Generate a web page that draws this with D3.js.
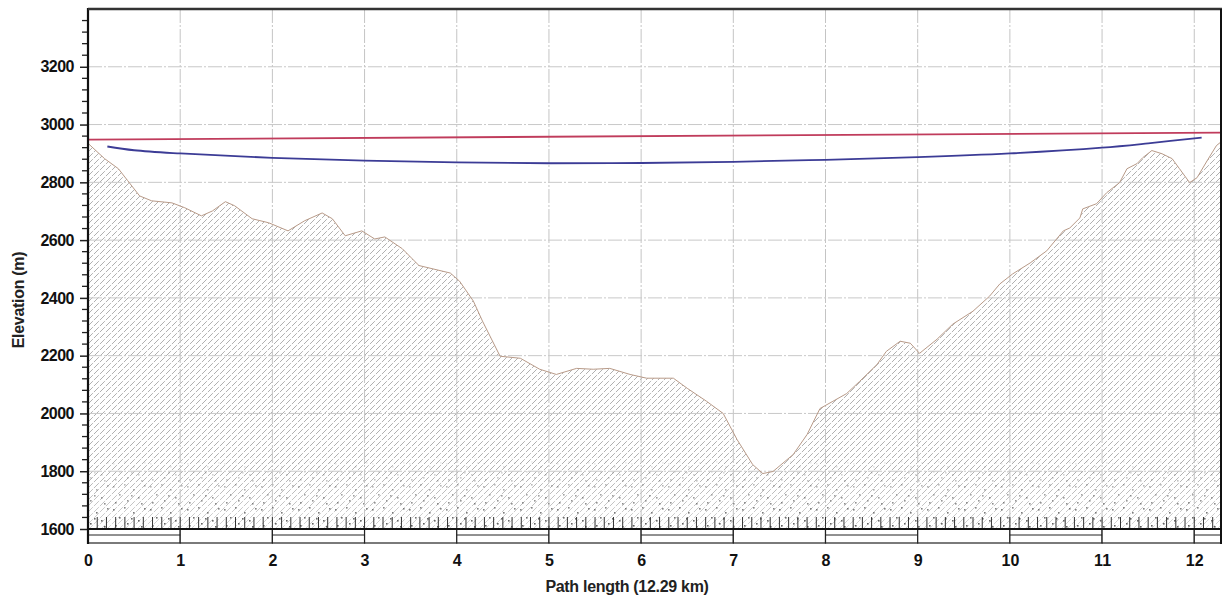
<!DOCTYPE html>
<html>
<head>
<meta charset="utf-8">
<script src="https://cdn.jsdelivr.net/npm/d3@7"></script>
<style>
  body { margin: 0; background: #fff; }
  svg { display: block; font-family: "Liberation Sans", Arial, sans-serif; }
</style>
</head>
<body>
<svg width="1226" height="601"></svg>
<script>
// terrain profile (km, m)
const terrainKm = [0, 0.18, 0.33, 0.43, 0.56, 0.69, 0.91, 1.05, 1.23, 1.35, 1.49, 1.59, 1.78, 1.96, 2.17, 2.35, 2.54, 2.65, 2.79, 2.97, 3.11, 3.22, 3.41, 3.59, 3.93, 4.03, 4.18, 4.28, 4.47, 4.69, 4.90, 5.08, 5.30, 5.48, 5.66, 5.88, 6.06, 6.35, 6.50, 6.71, 6.89, 7.04, 7.21, 7.32, 7.43, 7.65, 7.80, 7.94, 8.08, 8.23, 8.37, 8.56, 8.66, 8.81, 8.92, 9.02, 9.21, 9.38, 9.60, 9.78, 9.89, 10.03, 10.22, 10.40, 10.58, 10.65, 10.76, 10.79, 10.94, 11.05, 11.19, 11.27, 11.38, 11.44, 11.54, 11.65, 11.76, 11.84, 11.95, 12.03, 12.14, 12.24, 12.29];
const terrainM = [2935, 2882, 2847, 2806, 2753, 2736, 2729, 2712, 2684, 2701, 2733, 2719, 2674, 2660, 2632, 2667, 2694, 2674, 2615, 2632, 2604, 2611, 2570, 2512, 2486, 2458, 2389, 2319, 2198, 2191, 2153, 2135, 2156, 2153, 2156, 2135, 2122, 2122, 2087, 2042, 2000, 1910, 1823, 1792, 1799, 1858, 1927, 2017, 2042, 2069, 2111, 2170, 2215, 2250, 2243, 2208, 2257, 2309, 2354, 2406, 2448, 2483, 2521, 2563, 2632, 2642, 2677, 2708, 2726, 2764, 2799, 2847, 2865, 2885, 2910, 2899, 2882, 2847, 2799, 2816, 2875, 2927, 2940];

// line of sight (red)
const losKm = [0, 12.29];
const losM = [2948, 2972];

// clearance curve (blue)
const clearKm = [0.21, 0.5, 1, 2, 3, 4, 5, 6, 7, 8, 9, 10, 11, 11.5, 12.08];
const clearM = [2924, 2911, 2900, 2885, 2875, 2869, 2866, 2867, 2871, 2878, 2887, 2900, 2920, 2935, 2955];

const yTicks = [1600, 1800, 2000, 2200, 2400, 2600, 2800, 3000, 3200];
const xTicks = [0, 1, 2, 3, 4, 5, 6, 7, 8, 9, 10, 11, 12];

const svg = d3.select("svg");
const pLeft = 88, pRight = 1221, pTop = 9, pBottom = 529;

const x = d3.scaleLinear().domain([0, 12.29]).range([pLeft, pRight]);
const y = d3.scaleLinear().domain([1600, 3400]).range([pBottom, pTop]);

const terrain = terrainKm.map((k, i) => [k, terrainM[i]]);
const los = losKm.map((k, i) => [k, losM[i]]);
const clear = clearKm.map((k, i) => [k, clearM[i]]);

const defs = svg.append("defs");

// diagonal hatch
const hatch = defs.append("pattern")
    .attr("id", "hatch")
    .attr("patternUnits", "userSpaceOnUse")
    .attr("width", 6).attr("height", 6);
hatch.append("path")
    .attr("d", "M-1,1 l2,-2 M0,6 l6,-6 M5,7 l2,-2")
    .attr("stroke", "#9c9c9c")
    .attr("stroke-width", 0.8)
    .attr("stroke-dasharray", "4,1.5");

// stipple for the bottom band
const dots = defs.append("pattern")
    .attr("id", "dots")
    .attr("patternUnits", "userSpaceOnUse")
    .attr("width", 37).attr("height", 23);
[[2, 3], [13, 1], [8, 11], [27, 14], [4, 19], [22, 6], [16, 17], [33, 2], [30, 20], [20, 12]].forEach(p => {
  dots.append("rect").attr("x", p[0]).attr("y", p[1])
      .attr("width", 1.6).attr("height", 1.6).attr("fill", "#555");
});

const gFade = defs.append("linearGradient")
    .attr("id", "fadeGrad").attr("gradientUnits", "userSpaceOnUse")
    .attr("x1", 0).attr("x2", 0).attr("y1", y(1800)).attr("y2", pBottom);
gFade.append("stop").attr("offset", 0).attr("stop-color", "#fff");
gFade.append("stop").attr("offset", 1).attr("stop-color", "#888");
defs.append("mask").attr("id", "fadeMask")
    .attr("maskUnits", "userSpaceOnUse")
    .attr("x", 0).attr("y", 0).attr("width", 1226).attr("height", 601)
  .append("rect").attr("x", 0).attr("y", 0).attr("width", 1226).attr("height", 601)
    .attr("fill", "url(#fadeGrad)");

const gDots = defs.append("linearGradient")
    .attr("id", "dotGrad").attr("gradientUnits", "userSpaceOnUse")
    .attr("x1", 0).attr("x2", 0).attr("y1", y(1860)).attr("y2", pBottom);
gDots.append("stop").attr("offset", 0).attr("stop-color", "#000");
gDots.append("stop").attr("offset", 1).attr("stop-color", "#fff");
defs.append("mask").attr("id", "dotMask")
    .attr("maskUnits", "userSpaceOnUse")
    .attr("x", 0).attr("y", 0).attr("width", 1226).attr("height", 601)
  .append("rect").attr("x", 0).attr("y", 0).attr("width", 1226).attr("height", 601)
    .attr("fill", "url(#dotGrad)");

const area = d3.area()
    .x(d => x(d[0]))
    .y0(pBottom)
    .y1(d => y(d[1]));

// terrain fill
svg.append("path").datum(terrain)
    .attr("d", area)
    .attr("fill", "url(#hatch)")
    .attr("mask", "url(#fadeMask)");
svg.append("path").datum(terrain)
    .attr("d", area)
    .attr("fill", "url(#dots)")
    .attr("mask", "url(#dotMask)");

// grid
svg.append("g").selectAll("line")
  .data(xTicks.slice(1))
  .join("line")
    .attr("x1", d => x(d)).attr("x2", d => x(d))
    .attr("y1", pTop).attr("y2", pBottom)
    .attr("stroke", "#c4c4c4")
    .attr("stroke-width", 1)
    .attr("stroke-dasharray", "14,2,2,2");
svg.append("g").selectAll("line")
  .data(yTicks.slice(1))
  .join("line")
    .attr("x1", pLeft).attr("x2", pRight)
    .attr("y1", d => y(d)).attr("y2", d => y(d))
    .attr("stroke", "#c8c8c8")
    .attr("stroke-width", 1)
    .attr("stroke-dasharray", "14,2,2,2");

// terrain outline
svg.append("path").datum(terrain)
    .attr("d", d3.line().x(d => x(d[0])).y(d => y(d[1])))
    .attr("fill", "none")
    .attr("stroke", "#b89a88")
    .attr("stroke-width", 1);

// line of sight
svg.append("path").datum(los)
    .attr("d", d3.line().x(d => x(d[0])).y(d => y(d[1])))
    .attr("fill", "none")
    .attr("stroke", "#c03c5c")
    .attr("stroke-width", 1.8);

// clearance curve
svg.append("path").datum(clear)
    .attr("d", d3.line().curve(d3.curveCatmullRom).x(d => x(d[0])).y(d => y(d[1])))
    .attr("fill", "none")
    .attr("stroke", "#3c3c96")
    .attr("stroke-width", 1.8);

// ruler ticks along the base every 0.1 km
svg.append("g").selectAll("line")
  .data(d3.range(0, 123).map(i => i / 10))
  .join("line")
    .attr("x1", d => x(d)).attr("x2", d => x(d))
    .attr("y1", pBottom).attr("y2", pBottom - 12)
    .attr("stroke", "#333")
    .attr("stroke-width", 1);

// scale bar below the axis
const segs = d3.range(0, 13).map(i => [i, Math.min(i + 1, 12.29)]);
const bar = svg.append("g");
bar.selectAll("rect")
  .data(segs)
  .join("rect")
    .attr("x", d => x(d[0])).attr("width", d => x(d[1]) - x(d[0]))
    .attr("y", pBottom).attr("height", 14)
    .attr("fill", "#fff")
    .attr("stroke", "#222")
    .attr("stroke-width", 1.2);
bar.selectAll("line")
  .data(segs.filter((d, i) => i % 2 === 0))
  .join("line")
    .attr("x1", d => x(d[0])).attr("x2", d => x(d[1]))
    .attr("y1", pBottom + 6).attr("y2", pBottom + 6)
    .attr("stroke", "#222")
    .attr("stroke-width", 1);

// y axis
const yAxis = svg.append("g")
    .attr("transform", `translate(${pLeft},0)`)
    .call(d3.axisLeft(y).tickValues(yTicks).tickSize(8).tickPadding(6).tickFormat(d3.format("d")));
yAxis.select(".domain").remove();
yAxis.selectAll("text")
    .attr("font-size", 16).attr("font-weight", "bold").attr("fill", "#111")
    .attr("letter-spacing", -0.5)
    .attr("font-family", "Liberation Sans, Arial, sans-serif");
yAxis.selectAll("line").attr("stroke", "#222").attr("stroke-width", 1.5);

// minor ticks every 40 m
svg.append("g").selectAll("line")
  .data(d3.range(1640, 3400, 40).filter(v => v % 200 !== 0))
  .join("line")
    .attr("x1", pLeft - 6).attr("x2", pLeft)
    .attr("y1", d => y(d)).attr("y2", d => y(d))
    .attr("stroke", "#222")
    .attr("stroke-width", 1.3);

// x axis labels
const xAxis = svg.append("g")
    .attr("transform", `translate(0,${pBottom})`)
    .call(d3.axisBottom(x).tickValues(xTicks).tickSize(0).tickPadding(26).tickFormat(d3.format("d")));
xAxis.select(".domain").remove();
xAxis.selectAll("text")
    .attr("font-size", 16).attr("font-weight", "bold").attr("fill", "#111")
    .attr("font-family", "Liberation Sans, Arial, sans-serif");

// frame
svg.append("line").attr("x1", pLeft).attr("x2", pLeft).attr("y1", pTop - 1).attr("y2", pBottom + 15)
    .attr("stroke", "#111").attr("stroke-width", 2.2);
svg.append("line").attr("x1", pLeft).attr("x2", pRight).attr("y1", pBottom).attr("y2", pBottom)
    .attr("stroke", "#111").attr("stroke-width", 2.2);
svg.append("line").attr("x1", pLeft).attr("x2", pRight + 1).attr("y1", pTop).attr("y2", pTop)
    .attr("stroke", "#333").attr("stroke-width", 2.5);
svg.append("line").attr("x1", pRight).attr("x2", pRight).attr("y1", pTop).attr("y2", pBottom + 15)
    .attr("stroke", "#111").attr("stroke-width", 2);

// axis titles
svg.append("text")
    .attr("x", 627).attr("y", 592)
    .attr("text-anchor", "middle")
    .attr("font-size", 16).attr("font-weight", "bold").attr("fill", "#222")
    .attr("letter-spacing", -0.3)
    .text("Path length (12.29 km)");
svg.append("text")
    .attr("transform", `translate(24,300) rotate(-90)`)
    .attr("text-anchor", "middle")
    .attr("font-size", 16).attr("font-weight", "bold").attr("fill", "#222")
    .attr("letter-spacing", -0.3)
    .text("Elevation (m)");
</script>
</body>
</html>
